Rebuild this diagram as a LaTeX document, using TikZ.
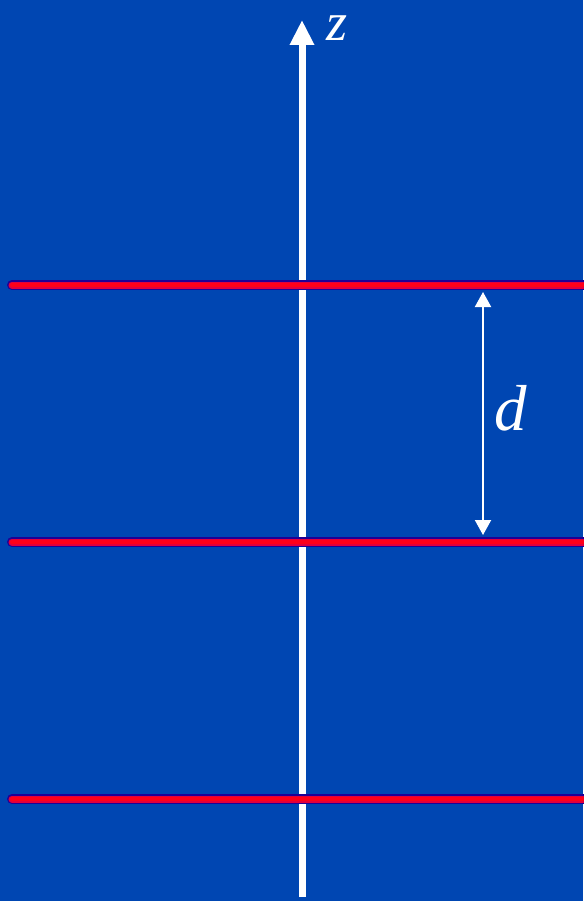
\documentclass[tikz,border=0pt]{standalone}
\usepackage{fontspec}
\setmainfont{Liberation Serif}
\usetikzlibrary{arrows.meta}
\definecolor{bgblue}{RGB}{0,70,178}
\definecolor{wireedge}{RGB}{30,0,150}
\definecolor{wiremid}{RGB}{225,0,60}
\definecolor{wirered}{RGB}{255,0,25}
\tikzset{
  wire/.style={line cap=round},
  lbl/.style={text=white, font=\itshape, inner sep=0pt, anchor=base},
}
\begin{document}
\begin{tikzpicture}[x=1pt,y=-1pt]
\fill[bgblue] (0,0) rectangle (583,901);
\useasboundingbox (0,0) rectangle (583,901);
% axis
\coordinate (axbot) at (302,897);
\coordinate (axtop) at (302,20);
\draw[white, line width=7pt, -{Triangle[length=25pt,width=23pt]}] (axbot) -- (axtop);
\node[lbl, text height=26pt, text depth=0pt, font=\fontsize{54}{54}\selectfont\itshape] (zlab) at (337,41) {z};
% wires
\foreach \y/\n in {285/a,542/b,799/c}{
  \coordinate (\n L) at (12,\y);
  \coordinate (\n R) at (590,\y);
  \draw[wire, wireedge, line width=10pt] (\n L) -- (\n R);
  \draw[wire, wiremid, line width=7pt] (\n L) -- (\n R);
  \draw[wire, wirered, line width=4pt] (\n L) -- (\n R);
}
% dimension
\coordinate (dtop) at (483,292);
\coordinate (dbot) at (483,535);
\draw[white, line width=2pt, {Triangle[length=15pt,width=16pt]}-{Triangle[length=15pt,width=16pt]}] (dtop) -- (dbot);
\node[lbl, font=\fontsize{65}{65}\selectfont\itshape] (dlab) at (511,430) {d};
\end{tikzpicture}
\end{document}
